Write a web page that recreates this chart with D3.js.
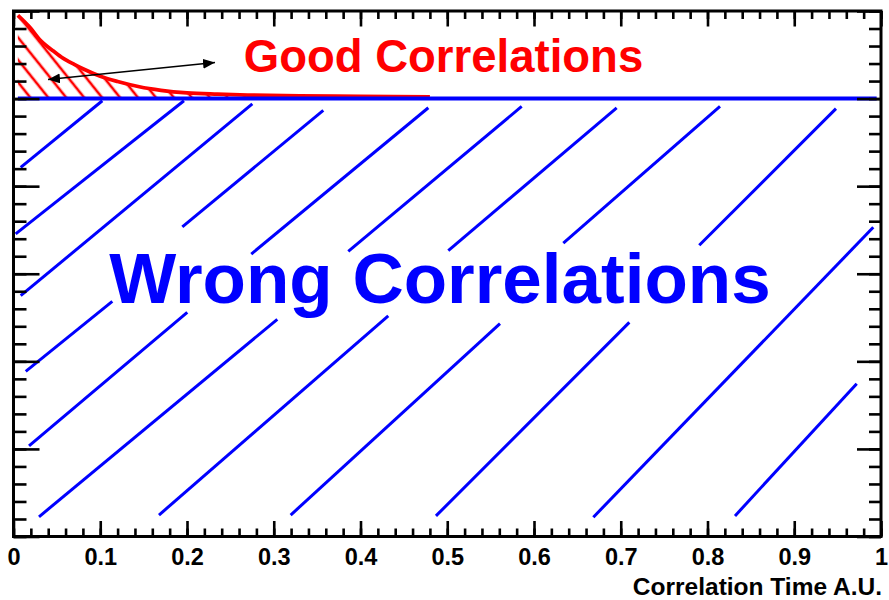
<!DOCTYPE html>
<html>
<head>
<meta charset="utf-8">
<script src="https://cdn.jsdelivr.net/npm/d3@7"></script>
<style>
  html, body { margin: 0; padding: 0; background: #fff; }
  svg { display: block; }
  text { font-family: "Liberation Sans", Arial, Helvetica, sans-serif; font-weight: bold; }
</style>
</head>
<body>
<svg id="chart" width="889" height="600"></svg>
<script>
// Axis ticks
const xTickValues = [0, 0.1, 0.2, 0.3, 0.4, 0.5, 0.6, 0.7, 0.8, 0.9, 1];
const xTickLabels = ["0", "0.1", "0.2", "0.3", "0.4", "0.5", "0.6", "0.7", "0.8", "0.9", "1"];
const yTickValues = [0, 0.2, 0.4, 0.6, 0.8, 1.0, 1.2];
const xAxisTitle = "Correlation Time A.U.";

// Good correlations: decaying excess above the plateau
const goodTime = [0.005, 0.02, 0.03, 0.045, 0.055, 0.07, 0.08, 0.1, 0.12, 0.145, 0.17, 0.2, 0.235, 0.27, 0.33, 0.4, 0.48];
const goodRate = [1.19, 1.16, 1.135, 1.11, 1.095, 1.078, 1.068, 1.051, 1.039, 1.027, 1.019, 1.013, 1.01, 1.008, 1.006, 1.005, 1.004];

// Wrong correlations: flat plateau
const wrongLevel = 1.0;
const wrongTime = [0.005, 0.995];

// Strokes of the wrong-correlation band (start / end in data units)
const hatchT1 = [0.0083, 0.0025, 0.0083, 0.1946, 0.2741, 0.3859, 0.5012, 0.6338, 0.7905, 0.0141, 0.0179, 0.0294, 0.1677, 0.3195, 0.4870, 0.6684, 0.8317];
const hatchR1 = [0.843, 0.691, 0.550, 0.707, 0.645, 0.651, 0.653, 0.670, 0.665, 0.377, 0.207, 0.045, 0.049, 0.049, 0.047, 0.044, 0.047];
const hatchT2 = [0.1024, 0.1965, 0.2753, 0.3571, 0.4782, 0.5858, 0.6953, 0.8144, 0.9481, 0.1139, 0.2003, 0.3041, 0.4320, 0.5608, 0.7099, 0.9911, 0.9720];
const hatchR2 = [0.995, 0.995, 0.988, 0.973, 0.979, 0.982, 0.979, 0.982, 0.977, 0.537, 0.512, 0.496, 0.504, 0.486, 0.489, 0.706, 0.349];

// Double arrow between the curve and the label
const arrowFrom = [0.0398, 1.0434];
const arrowTo = [0.2323, 1.0823];

// Labels
const goodLabel = { text: "Good Correlations", t: 0.4957, r: 1.0617 };
const wrongLabel = { text: "Wrong Correlations", t: 0.4916, r: 0.533 };

const RED = "#ff0000", BLUE = "#0000ff";

const svg = d3.select("#chart");
const frame = { left: 13.5, right: 881, top: 11, bottom: 536.5 };

const x = d3.scaleLinear().domain([0, 1]).range([frame.left, frame.right]);
const y = d3.scaleLinear().domain([0, 1.2]).range([frame.bottom, frame.top]);

const defs = svg.append("defs");

// red hatch fill
const pat = defs.append("pattern")
  .attr("id", "redHatch")
  .attr("patternUnits", "userSpaceOnUse")
  .attr("width", 14).attr("height", 14)
  .attr("patternTransform", "translate(100,95) rotate(-38.7)");
[0, 14].forEach(px => pat.append("line")
  .attr("x1", px).attr("y1", -2).attr("x2", px).attr("y2", 16)
  .attr("stroke", RED).attr("stroke-width", 2.6));

// arrow heads
const marker = defs.append("marker")
  .attr("id", "head")
  .attr("markerUnits", "userSpaceOnUse")
  .attr("viewBox", "0 0 12 10")
  .attr("markerWidth", 12).attr("markerHeight", 10)
  .attr("refX", 12).attr("refY", 5)
  .attr("orient", "auto-start-reverse");
marker.append("path").attr("d", "M0,0 L12,5 L0,10 Z").attr("fill", "#000");

const goodData = goodTime.map((t, i) => ({ t, r: goodRate[i] }));

// hatched good-correlation area
svg.append("path")
  .datum(goodData)
  .attr("d", d3.area().x(d => x(d.t)).y0(y(wrongLevel)).y1(d => y(d.r)).curve(d3.curveMonotoneX))
  .attr("fill", "url(#redHatch)");

// good-correlation curve
svg.append("path")
  .datum(goodData)
  .attr("d", d3.line().x(d => x(d.t)).y(d => y(d.r)).curve(d3.curveMonotoneX))
  .attr("fill", "none")
  .attr("stroke", RED)
  .attr("stroke-width", 3.8);

// wrong-correlation plateau
svg.append("line")
  .attr("x1", x(wrongTime[0])).attr("x2", x(wrongTime[1]))
  .attr("y1", y(wrongLevel)).attr("y2", y(wrongLevel))
  .attr("stroke", BLUE).attr("stroke-width", 4);

// wrong-correlation hatch strokes
svg.append("g").selectAll("line")
  .data(hatchT1.map((t, i) => ({ t1: t, r1: hatchR1[i], t2: hatchT2[i], r2: hatchR2[i] })))
  .join("line")
  .attr("x1", d => x(d.t1)).attr("y1", d => y(d.r1))
  .attr("x2", d => x(d.t2)).attr("y2", d => y(d.r2))
  .attr("stroke", BLUE).attr("stroke-width", 3);

// arrow
svg.append("line")
  .attr("x1", x(arrowFrom[0])).attr("y1", y(arrowFrom[1]))
  .attr("x2", x(arrowTo[0])).attr("y2", y(arrowTo[1]))
  .attr("stroke", "#000").attr("stroke-width", 1.6)
  .attr("marker-start", "url(#head)")
  .attr("marker-end", "url(#head)");

// labels
svg.append("text")
  .attr("x", x(goodLabel.t)).attr("y", y(goodLabel.r))
  .attr("text-anchor", "middle")
  .attr("font-size", 45.5)
  .attr("fill", RED)
  .text(goodLabel.text);

svg.append("text")
  .attr("x", x(wrongLabel.t)).attr("y", y(wrongLabel.r))
  .attr("text-anchor", "middle")
  .attr("font-size", 71)
  .attr("fill", BLUE)
  .text(wrongLabel.text);

// axes
function styleAxis(g) {
  g.select(".domain").remove();
  g.selectAll(".tick line").attr("stroke", "#000").attr("stroke-width", 2.6);
  g.selectAll(".tick text").attr("fill", "#000");
}
const xMinor = d3.range(0, 1.0001, 0.02);
const yMinor = d3.range(0, 1.2001, 0.04);

svg.append("g").attr("transform", `translate(0,${frame.bottom})`)
  .call(d3.axisBottom(x).tickValues(xMinor).tickFormat("").tickSizeInner(-8).tickSizeOuter(0))
  .call(styleAxis);
svg.append("g").attr("transform", `translate(0,${frame.bottom})`)
  .call(d3.axisBottom(x).tickValues(xTickValues).tickFormat((d, i) => xTickLabels[i])
    .tickSizeInner(-15.5).tickSizeOuter(0).tickPadding(12))
  .call(styleAxis)
  .call(g => g.selectAll(".tick text")
    .attr("font-size", 23.5)
    .attr("font-family", '"Liberation Sans", Arial, Helvetica, sans-serif')
    .attr("font-weight", "bold"));

svg.append("g").attr("transform", `translate(0,${frame.top})`)
  .call(d3.axisTop(x).tickValues(xMinor).tickFormat("").tickSizeInner(-8).tickSizeOuter(0))
  .call(styleAxis);
svg.append("g").attr("transform", `translate(0,${frame.top})`)
  .call(d3.axisTop(x).tickValues(xTickValues).tickFormat("").tickSizeInner(-15.5).tickSizeOuter(0))
  .call(styleAxis);

svg.append("g").attr("transform", `translate(${frame.left},0)`)
  .call(d3.axisLeft(y).tickValues(yMinor).tickFormat("").tickSizeInner(-13).tickSizeOuter(0))
  .call(styleAxis);
svg.append("g").attr("transform", `translate(${frame.left},0)`)
  .call(d3.axisLeft(y).tickValues(yTickValues).tickFormat("").tickSizeInner(-26).tickSizeOuter(0))
  .call(styleAxis);

svg.append("g").attr("transform", `translate(${frame.right},0)`)
  .call(d3.axisRight(y).tickValues(yMinor).tickFormat("").tickSizeInner(-12).tickSizeOuter(0))
  .call(styleAxis);
svg.append("g").attr("transform", `translate(${frame.right},0)`)
  .call(d3.axisRight(y).tickValues(yTickValues).tickFormat("").tickSizeInner(-24).tickSizeOuter(0))
  .call(styleAxis);

// frame
svg.append("rect")
  .attr("x", frame.left).attr("y", frame.top)
  .attr("width", frame.right - frame.left).attr("height", frame.bottom - frame.top)
  .attr("fill", "none").attr("stroke", "#000").attr("stroke-width", 3);

// axis title
svg.append("text")
  .attr("x", frame.right + 1).attr("y", 595)
  .attr("text-anchor", "end")
  .attr("font-size", 24.5)
  .attr("fill", "#000")
  .text(xAxisTitle);
</script>
</body>
</html>
